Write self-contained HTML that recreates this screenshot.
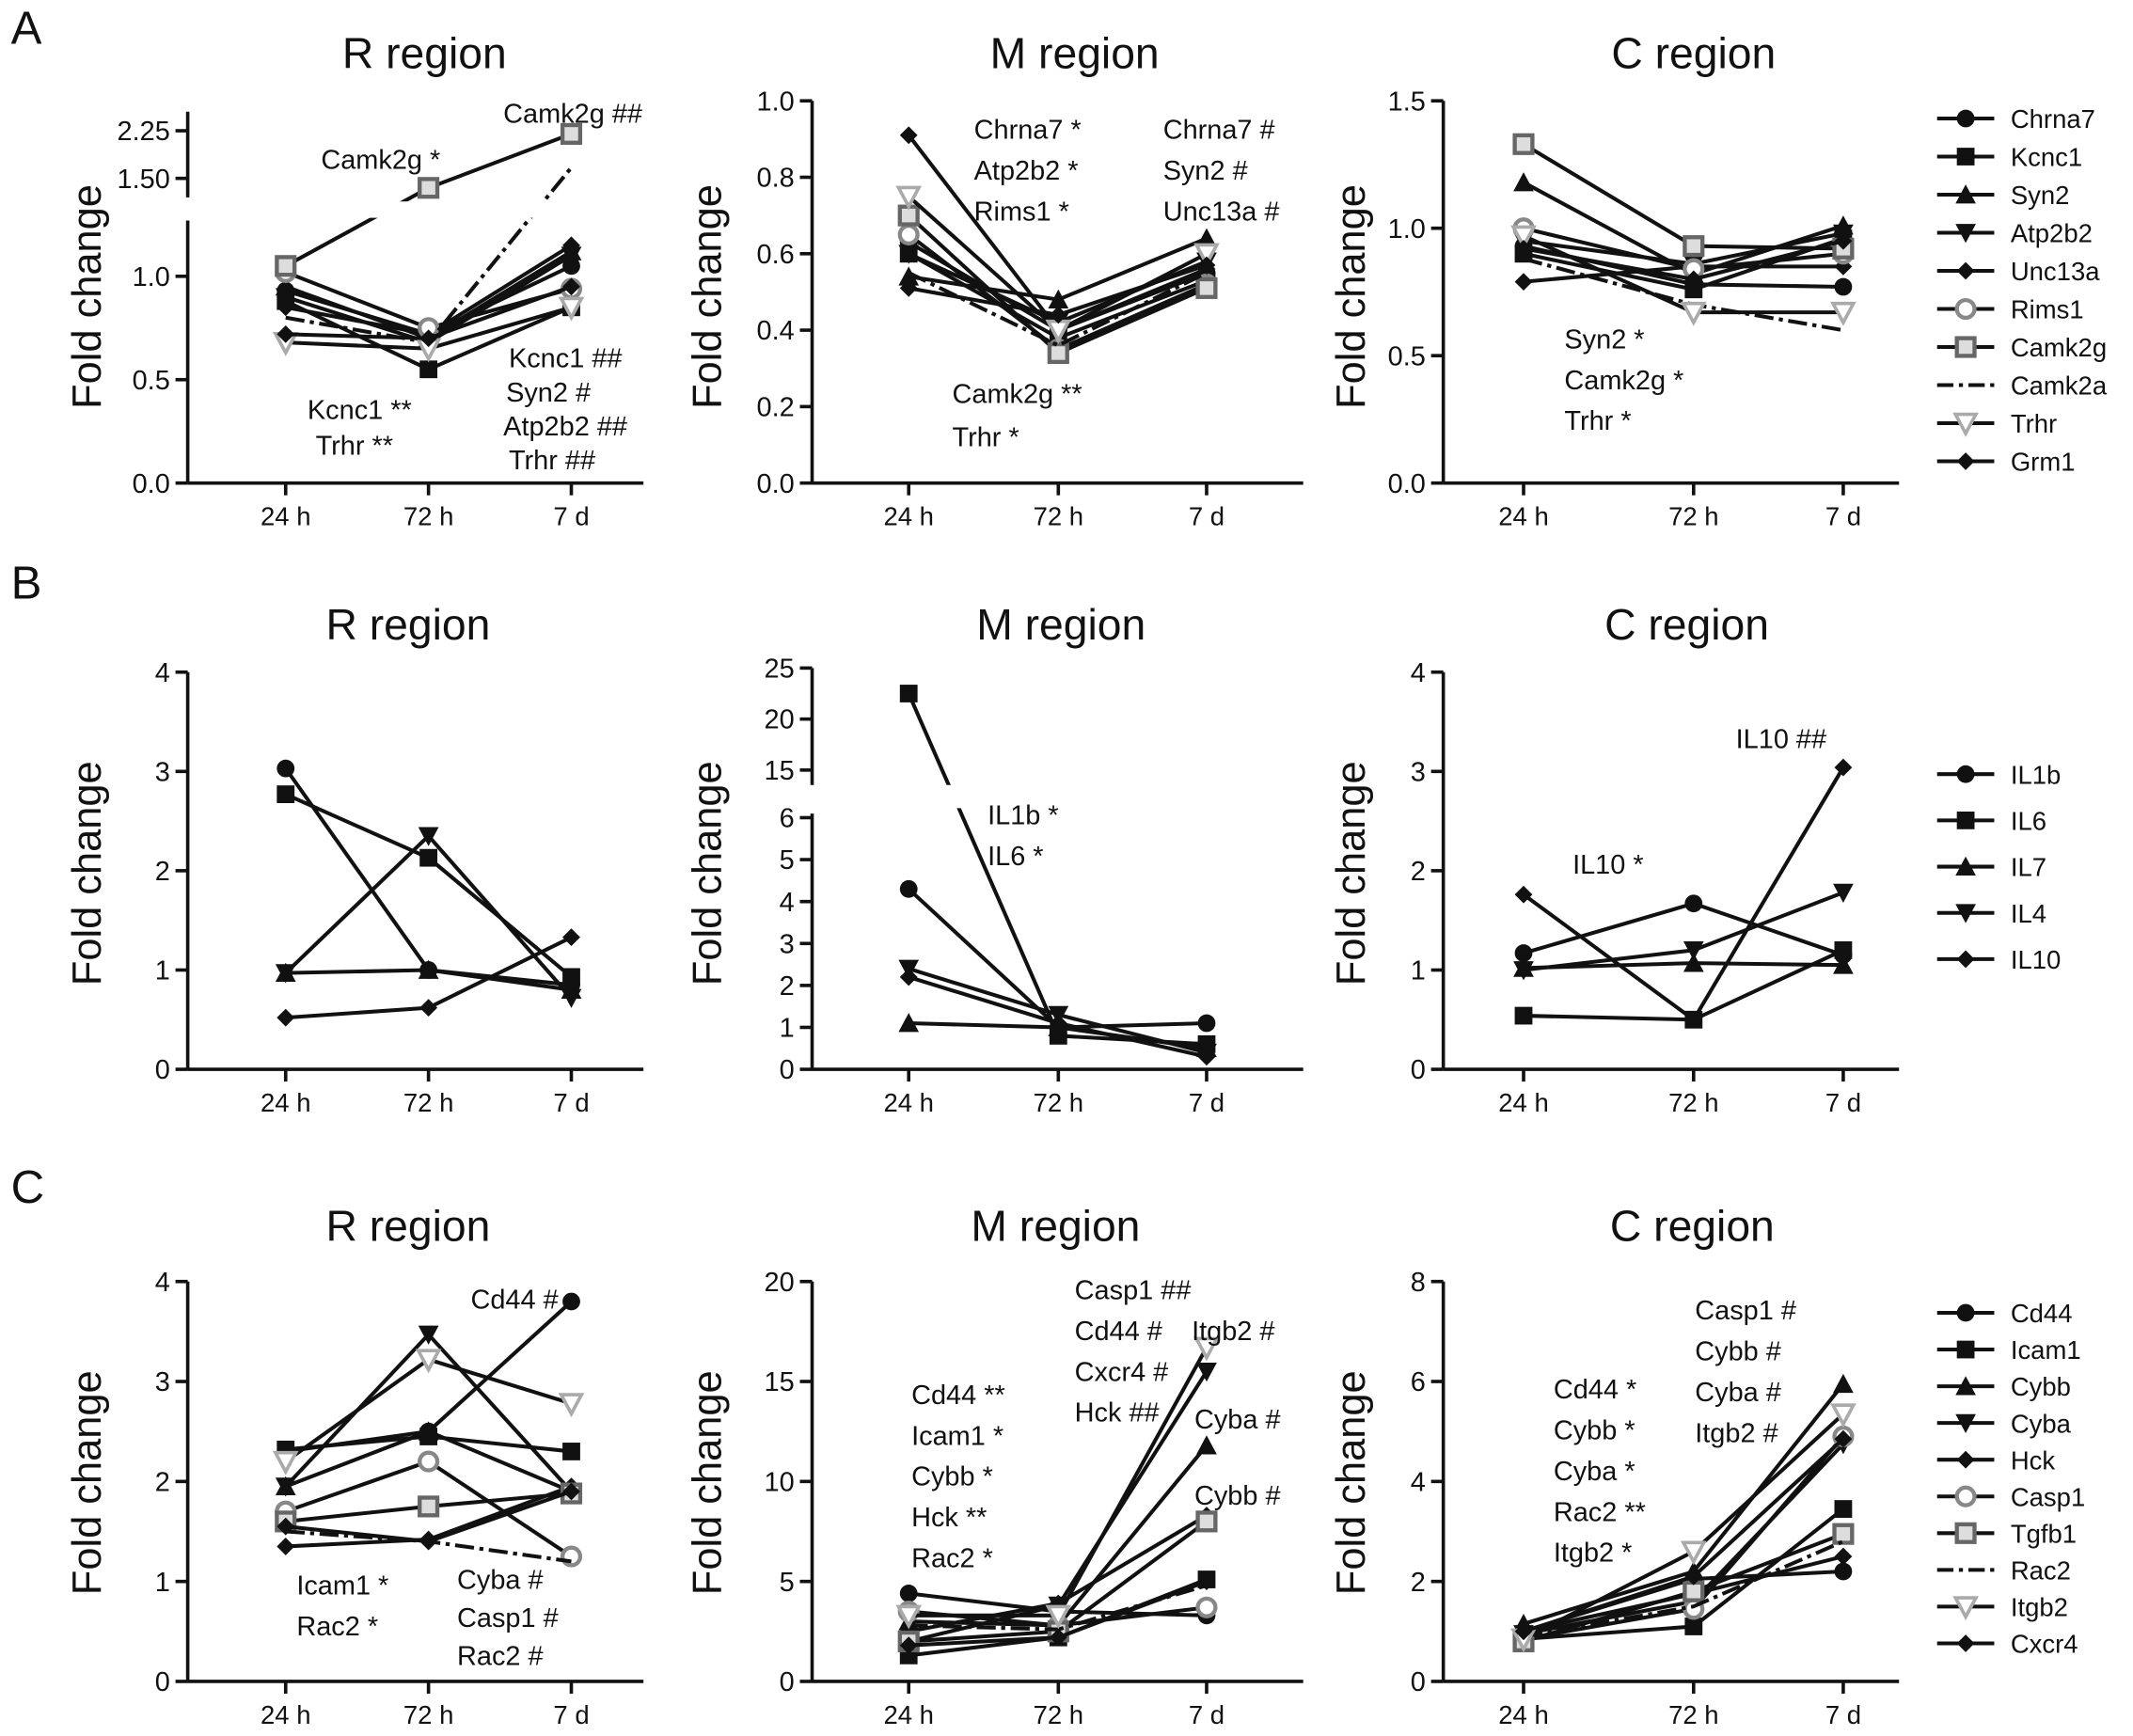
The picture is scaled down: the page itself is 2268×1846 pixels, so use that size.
<!DOCTYPE html>
<html><head><meta charset="utf-8">
<style>
html,body{margin:0;padding:0;background:#fff;}
svg{display:block;}
text{font-family:"Liberation Sans",Arial,sans-serif;fill:#111;}
</style></head>
<body>
<svg id="chart" width="2268" height="1846" viewBox="0 0 1568 1276" xmlns="http://www.w3.org/2000/svg">
<g id="root"></g>
</svg>
<script>
// ---------- data ----------
const timeLabels = ["24 h","72 h","7 d"];
const genesA = ["Chrna7","Kcnc1","Syn2","Atp2b2","Unc13a","Rims1","Camk2g","Camk2a","Trhr","Grm1"];
const cytokines = ["IL1b","IL6","IL7","IL4","IL10"];
const genesC = ["Cd44","Icam1","Cybb","Cyba","Hck","Casp1","Tgfb1","Rac2","Itgb2","Cxcr4"];

const aR = [[0.93,0.72,1.05],[0.88,0.55,0.85],[0.95,0.70,1.12],[0.90,0.68,1.10],[0.85,0.72,1.15],[1.02,0.75,0.94],[1.05,1.35,2.20],[0.80,0.68,1.67],[0.68,0.65,0.85],[0.72,0.70,0.95]];
const aM = [[0.63,0.40,0.55],[0.60,0.38,0.53],[0.54,0.48,0.64],[0.60,0.42,0.58],[0.91,0.40,0.56],[0.65,0.35,0.52],[0.70,0.34,0.51],[0.55,0.36,0.55],[0.75,0.40,0.60],[0.51,0.44,0.57]];
const aC = [[0.93,0.78,0.77],[0.90,0.76,0.96],[1.18,0.82,1.01],[0.95,0.86,0.98],[0.79,0.85,0.85],[1.00,0.84,0.90],[1.33,0.93,0.92],[0.88,0.70,0.60],[0.97,0.67,0.67],[0.92,0.80,0.95]];

const bR = [[3.03,1.00,0.85],[2.77,2.13,0.93],[0.97,1.00,0.80],[0.97,2.35,0.72],[0.52,0.62,1.33]];
const bM = [[4.3,1.0,1.1],[22.5,0.8,0.6],[1.1,1.0,0.5],[2.4,1.3,0.4],[2.2,1.1,0.3]];
const bC = [[1.17,1.67,1.15],[0.54,0.50,1.20],[1.02,1.07,1.05],[1.00,1.20,1.78],[1.76,0.50,3.04]];

const cR = [[2.3,2.5,3.8],[2.32,2.45,2.3],[1.95,2.5,1.9],[1.95,3.47,1.9],[1.35,1.42,1.95],[1.7,2.2,1.25],[1.6,1.75,1.88],[1.5,1.4,1.2],[2.2,3.22,2.78],[1.55,1.4,1.9]];
const cM = [[4.4,3.5,3.3],[1.3,2.2,5.1],[3.0,2.8,11.8],[2.0,3.8,15.5],[2.5,3.9,8.3],[3.5,2.8,3.7],[2.0,2.5,8.0],[2.8,2.6,4.8],[3.3,3.3,16.7],[1.8,2.2,5.0]];
const cC = [[1.0,2.05,2.2],[0.85,1.1,3.45],[1.15,2.2,5.95],[0.95,1.6,4.75],[1.0,1.75,2.5],[0.85,1.45,4.9],[0.8,1.8,2.95],[0.9,1.5,2.8],[0.85,2.6,5.35],[1.0,2.1,4.85]];

const ticksA_R_low = [0,0.5,1.0], ticksA_R_high=[1.5,2.25];
const ticksA_M = [0,0.2,0.4,0.6,0.8,1.0];
const ticksA_C = [0,0.5,1.0,1.5];
const ticksB = [0,1,2,3,4];
const ticksB_M_low=[0,1,2,3,4,5,6], ticksB_M_high=[15,20,25];
const ticksC_R=[0,1,2,3,4], ticksC_M=[0,5,10,15,20], ticksC_C=[0,2,4,6,8];

const markA = ["circle","square","tri","tridown","diamond","circle-gray","square-gray","none","tridown-light","diamond"];
const markB = ["circle","square","tri","tridown","diamond"];
const markC = ["circle","square","tri","tridown","diamond","circle-gray","square-gray","none","tridown-light","diamond"];

// ---------- drawing ----------
const NS="http://www.w3.org/2000/svg";
const root=document.getElementById('root');
function el(tag,attrs,parent){const e=document.createElementNS(NS,tag);for(const k in attrs)e.setAttribute(k,attrs[k]);(parent||root).appendChild(e);return e;}
function txt(s,x,y,size,anchor,parent,extra){const t=el('text',Object.assign({x:x,y:y,'font-size':size,'text-anchor':anchor||'start'},extra||{}),parent);t.textContent=s;return t;}
function fmt(v,dec){return v.toFixed(dec);}

function marker(g,kind,x,y){
  const r=6.5;let m;
  const dark="#111";
  if(kind==="none"){return;}
  if(kind==="circle"){m=el('circle',{cx:x,cy:y,r:r,fill:dark},g);}
  else if(kind==="square"){m=el('rect',{x:x-r,y:y-r,width:2*r,height:2*r,fill:dark},g);}
  else if(kind==="tri"){m=el('polygon',{points:`${x},${y-r-1} ${x-r-1},${y+r} ${x+r+1},${y+r}`,fill:dark},g);}
  else if(kind==="tridown"){m=el('polygon',{points:`${x},${y+r+1} ${x-r-1},${y-r} ${x+r+1},${y-r}`,fill:dark},g);}
  else if(kind==="diamond"){m=el('polygon',{points:`${x},${y-r} ${x+r},${y} ${x},${y+r} ${x-r},${y}`,fill:dark},g);}
  else if(kind==="circle-gray"){m=el('circle',{cx:x,cy:y,r:r,fill:"#fff",stroke:"#888",'stroke-width':3},g);}
  else if(kind==="square-gray"){m=el('rect',{x:x-r,y:y-r,width:2*r,height:2*r,fill:"#ddd",stroke:"#666",'stroke-width':3},g);}
  else if(kind==="tridown-light"){m=el('polygon',{points:`${x},${y+r+1} ${x-r-1},${y-r} ${x+r+1},${y-r}`,fill:"#fff",stroke:"#aaa",'stroke-width':2.5},g);}
  
  
}

function panel(cfg){
  const g=el('g',{});
  
  
  const ax=cfg.ax, y0=cfg.y(0);
  const t=txt(cfg.title,cfg.titleX,cfg.titleY,32,'middle',g);
  
  cfg.segs.forEach(s=>{const l=el('line',{x1:ax,x2:ax,y1:s[0],y2:s[1],stroke:'#111','stroke-width':2.5},g);});
  cfg.ticks.forEach(tk=>{const yy=cfg.y(tk[0]);el('line',{x1:ax-9,x2:ax,y1:yy,y2:yy,stroke:'#111','stroke-width':2.5},g);
    const lt=txt(tk[1],ax-13,yy+7,20,'end',g);});
  const xa=el('line',{x1:ax,x2:ax+cfg.w,y1:y0,y2:y0,stroke:'#111','stroke-width':2.5},g);
  
  cfg.xs.forEach((x,i)=>{el('line',{x1:x,x2:x,y1:y0,y2:y0+9,stroke:'#111','stroke-width':2.5},g);
    const lt=txt(timeLabels[i],x,y0+31,19,'middle',g);});
  const yt=txt("Fold change",0,0,30,'middle',g,{transform:`translate(${cfg.ytX},${cfg.ytY}) rotate(-90)`});
  
  cfg.data.forEach((vals,si)=>{
    const sg=el('g',{},g);
    
    
    const pts=vals.map((v,i)=>[cfg.xs[i],cfg.y(v)]);
    const kind=cfg.marks[si];
    const pl=el('polyline',{points:pts.map(p=>p.join(',')).join(' '),fill:'none',stroke:'#111','stroke-width':2.8,'stroke-dasharray':kind==="none"?"14,4,3,4":"none"},sg);
    
    pts.forEach(p=>marker(sg,kind,p[0],p[1]));
  });
  (cfg.gaps||[]).forEach(gp=>{el('rect',{x:ax-20,y:gp[0],width:cfg.w+30,height:gp[1]-gp[0],fill:'#fff'},g);});
  (cfg.notes||[]).forEach(n=>{const a=txt(n[0],n[1],n[2],20,'start',g);});
  return g;
}
function lin(v0,y0,v1,y1){return v=>y0+(v-v0)*(y1-y0)/(v1-v0);}

const XR=[210,315,420], XM=[668,778,887], XC=[1120,1245,1355];
const axR=138, axM=597, axC=1061;
const wR=335, wM=361, wC=335;

// Row A
const yAR_low=lin(0,355,1,203), yAR_high=lin(1.5,131,2.25,96);
panel({name:'panel-a-r',title:'R region',titleX:312,titleY:50,ax:axR,w:wR,xs:XR,ytX:74,ytY:218,
 y:v=>v<=1.28?yAR_low(v):yAR_high(v),segs:[[355,162],[145,82]],
 ticks:ticksA_R_low.map(v=>[v,fmt(v,1)]).concat(ticksA_R_high.map(v=>[v,fmt(v,2)])),
 data:aR,names:genesA,marks:markA,gaps:[[148,160]],
 notes:[["Camk2g *",236,124],["Camk2g ##",370,90],["Kcnc1 **",226,308],["Trhr **",232,334],["Kcnc1 ##",374,270],["Syn2 #",372,295],["Atp2b2 ##",370,320],["Trhr ##",374,345]]});
panel({name:'panel-a-m',title:'M region',titleX:790,titleY:50,ax:axM,w:wM,xs:XM,ytX:530,ytY:218,
 y:lin(0,355,1,74),segs:[[355,74]],ticks:ticksA_M.map(v=>[v,fmt(v,1)]),data:aM,names:genesA,marks:markA,
 notes:[["Chrna7 *",716,102],["Atp2b2 *",716,132],["Rims1 *",716,162],["Chrna7 #",855,102],["Syn2 #",855,132],["Unc13a #",855,162],["Camk2g **",700,296],["Trhr *",700,328]]});
panel({name:'panel-a-c',title:'C region',titleX:1245,titleY:50,ax:axC,w:wC,xs:XC,ytX:1003,ytY:218,
 y:lin(0,355,1.5,74),segs:[[355,74]],ticks:ticksA_C.map(v=>[v,fmt(v,1)]),data:aC,names:genesA,marks:markA,
 notes:[["Syn2 *",1150,256],["Camk2g *",1150,286],["Trhr *",1150,316]]});

// Row B
panel({name:'panel-b-r',title:'R region',titleX:300,titleY:470,ax:axR,w:wR,xs:XR,ytX:74,ytY:642,
 y:lin(0,786,4,494),segs:[[786,494]],ticks:ticksB.map(v=>[v,String(v)]),data:bR,names:cytokines,marks:markB});
const yBM_low=lin(0,786,6,601), yBM_high=lin(15,566,25,491);
panel({name:'panel-b-m',title:'M region',titleX:780,titleY:470,ax:axM,w:wM,xs:XM,ytX:530,ytY:642,
 y:v=>v<=6.5?yBM_low(v):yBM_high(v),segs:[[786,598],[588,491]],
 ticks:ticksB_M_low.map(v=>[v,String(v)]).concat(ticksB_M_high.map(v=>[v,String(v)])),
 data:bM,names:cytokines,marks:markB,gaps:[[577,594]],
 notes:[["IL1b *",726,606],["IL6 *",726,636]]});
panel({name:'panel-b-c',title:'C region',titleX:1240,titleY:470,ax:axC,w:wC,xs:XC,ytX:1003,ytY:642,
 y:lin(0,786,4,494),segs:[[786,494]],ticks:ticksB.map(v=>[v,String(v)]),data:bC,names:cytokines,marks:markB,
 notes:[["IL10 ##",1276,550],["IL10 *",1156,642]]});

// Row C
panel({name:'panel-c-r',title:'R region',titleX:300,titleY:912,ax:axR,w:wR,xs:XR,ytX:74,ytY:1090,
 y:lin(0,1236,4,942),segs:[[1236,942]],ticks:ticksC_R.map(v=>[v,String(v)]),data:cR,names:genesC,marks:markC,
 notes:[["Cd44 #",346,962],["Icam1 *",218,1172],["Rac2 *",218,1202],["Cyba #",336,1168],["Casp1 #",336,1196],["Rac2 #",336,1224]]});
panel({name:'panel-c-m',title:'M region',titleX:776,titleY:912,ax:axM,w:wM,xs:XM,ytX:530,ytY:1090,
 y:lin(0,1236,20,942),segs:[[1236,942]],ticks:ticksC_M.map(v=>[v,String(v)]),data:cM,names:genesC,marks:markC,
 notes:[["Casp1 ##",790,955],["Cd44 #",790,985],["Cxcr4 #",790,1015],["Hck ##",790,1045],["Itgb2 #",876,985],["Cyba #",878,1050],["Cybb #",878,1106],
  ["Cd44 **",670,1032],["Icam1 *",670,1062],["Cybb *",670,1092],["Hck **",670,1122],["Rac2 *",670,1152]]});
panel({name:'panel-c-c',title:'C region',titleX:1244,titleY:912,ax:axC,w:wC,xs:XC,ytX:1003,ytY:1090,
 y:lin(0,1236,8,942),segs:[[1236,942]],ticks:ticksC_C.map(v=>[v,String(v)]),data:cC,names:genesC,marks:markC,
 notes:[["Casp1 #",1246,970],["Cybb #",1246,1000],["Cyba #",1246,1030],["Itgb2 #",1246,1060],
  ["Cd44 *",1142,1028],["Cybb *",1142,1058],["Cyba *",1142,1088],["Rac2 **",1142,1118],["Itgb2 *",1142,1148]]});

// Legends
function legend(names,marks,x,y0,dy,nm){
  const g=el('g',{});
  
  
  names.forEach((n,i)=>{
    const y=y0+i*dy;
    const eg=el('g',{},g);
    
    
    el('line',{x1:x,x2:x+42,y1:y,y2:y,stroke:'#111','stroke-width':2.8,'stroke-dasharray':marks[i]==="none"?"12,4,3,4":"none"},eg);
    marker(eg,marks[i],x+21,y);
    txt(n,x+54,y+7,19,'start',eg);
  });
}
legend(genesA,markA,1424,87,28,'legend-a');
legend(cytokines,markB,1424,569,34,'legend-b');
legend(genesC,markC,1424,965,27,'legend-c');

[["A",8,32],["B",8,440],["C",8,884]].forEach(p=>{const t=txt(p[0],p[1],p[2],34,'start');});
</script>
</body></html>
